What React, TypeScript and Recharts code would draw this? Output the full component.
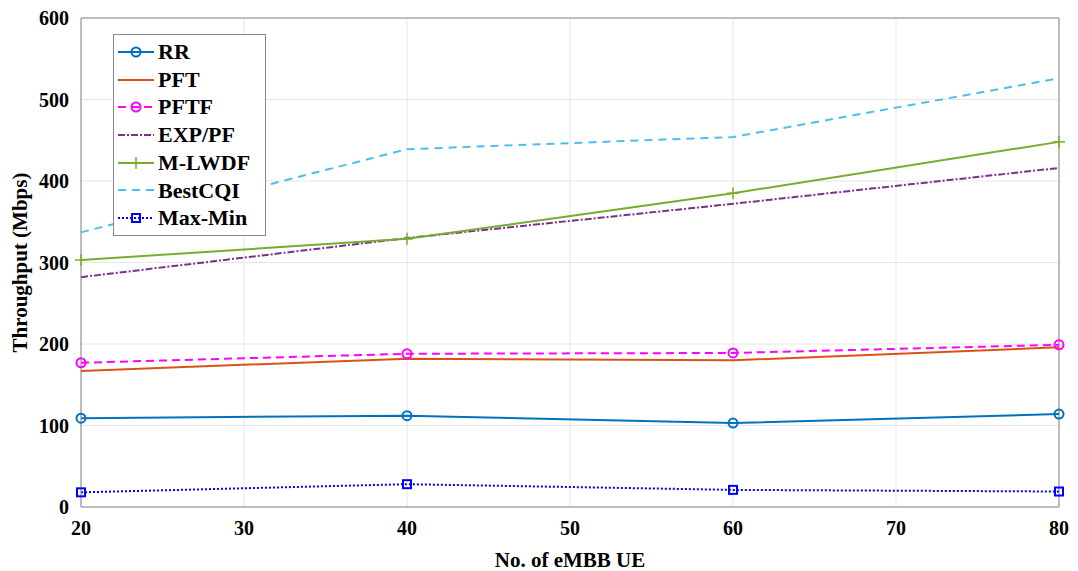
import { CartesianGrid, Line, LineChart, ReferenceLine, XAxis, YAxis } from "recharts";

const ueCounts = [20, 40, 60, 80];
const rr = [109, 112, 103, 114];
const pft = [167, 182, 180, 196];
const pftf = [177, 188, 189, 199];
const expPf = [282, 330, 372, 416];
const mLwdf = [303, 329, 385, 448];
const bestCqi = [337, 439, 454, 526];
const maxMin = [18, 28, 21, 19];

const xTicks = [20, 30, 40, 50, 60, 70, 80];
const yTicks = [0, 100, 200, 300, 400, 500, 600];

const font = "'Liberation Serif', 'Times New Roman', serif";
const tickStyle = { fontSize: 20, fontWeight: 700, fill: "#000", fontFamily: font };

type Marker = "circle" | "plus" | "square" | "none";

interface SeriesDef {
  key: string;
  name: string;
  color: string;
  dash?: string;
  marker: Marker;
}

const series: SeriesDef[] = [
  { key: "rr", name: "RR", color: "#0072BD", marker: "circle" },
  { key: "pft", name: "PFT", color: "#D95319", marker: "none" },
  { key: "pftf", name: "PFTF", color: "#FF00FF", dash: "8 5", marker: "circle" },
  { key: "expPf", name: "EXP/PF", color: "#7E2F8E", dash: "7 2 2 2", marker: "none" },
  { key: "mLwdf", name: "M-LWDF", color: "#77AC30", marker: "plus" },
  { key: "bestCqi", name: "BestCQI", color: "#4DBEEE", dash: "8 6", marker: "none" },
  { key: "maxMin", name: "Max-Min", color: "#0000FF", dash: "2 2", marker: "square" },
];

const rows = ueCounts.map((ue, i) => ({
  ue,
  rr: rr[i],
  pft: pft[i],
  pftf: pftf[i],
  expPf: expPf[i],
  mLwdf: mLwdf[i],
  bestCqi: bestCqi[i],
  maxMin: maxMin[i],
}));

function drawMarker(kind: Marker, color: string, cx: number, cy: number, key?: string) {
  if (kind === "circle")
    return <circle key={key} cx={cx} cy={cy} r={4.5} fill="none" stroke={color} strokeWidth={2} />;
  if (kind === "square")
    return <rect key={key} x={cx - 4} y={cy - 4} width={8} height={8} fill="none" stroke={color} strokeWidth={2} />;
  if (kind === "plus")
    return (
      <g key={key}>
        <line x1={cx - 6} y1={cy} x2={cx + 6} y2={cy} stroke={color} strokeWidth={1.5} />
        <line x1={cx} y1={cy - 6} x2={cx} y2={cy + 6} stroke={color} strokeWidth={1.5} />
      </g>
    );
  return <g key={key} />;
}

// legend drawn as an overlay so it doesn't eat plot space
function LegendBox() {
  return (
    <div
      style={{
        position: "absolute",
        left: 113,
        top: 34,
        width: 153,
        boxSizing: "border-box",
        border: "1px solid #888",
        background: "#fff",
        padding: "3px 0 3px 2px",
        fontFamily: font,
        fontWeight: 700,
        fontSize: 22,
        lineHeight: "27.7px",
        color: "#000",
        whiteSpace: "nowrap",
      }}
    >
      {series.map((s) => (
        <div key={s.key} style={{ display: "flex", alignItems: "center" }}>
          <svg width={40} height={16} style={{ marginRight: 2 }}>
            <line x1={2} y1={8} x2={38} y2={8} stroke={s.color} strokeWidth={2} strokeDasharray={s.dash} />
            {drawMarker(s.marker, s.color, 20, 8)}
          </svg>
          <span>{s.name}</span>
        </div>
      ))}
    </div>
  );
}

export default function App() {
  return (
    <div style={{ position: "fixed", top: 0, left: 0, width: 1078, height: 571, background: "#fff" }}>
      <LineChart width={1078} height={571} data={rows} margin={{ top: 18, right: 19, left: 0, bottom: 0 }}>
        <CartesianGrid stroke="#e6e6e6" vertical horizontal />
        <XAxis
          dataKey="ue"
          type="number"
          domain={[20, 80]}
          ticks={xTicks}
          tick={tickStyle}
          tickLine={false}
          axisLine={{ stroke: "#888" }}
          height={64}
          tickMargin={8}
          label={{ value: "No. of eMBB UE", position: "insideBottom", offset: 4, style: { ...tickStyle, fontSize: 21 } }}
        />
        <YAxis
          type="number"
          domain={[0, 600]}
          ticks={yTicks}
          tick={tickStyle}
          tickLine={false}
          axisLine={{ stroke: "#888" }}
          width={81}
          tickMargin={6}
          label={{
            value: "Throughput (Mbps)",
            angle: -90,
            position: "insideLeft",
            offset: 20,
            style: { ...tickStyle, fontSize: 21, textAnchor: "middle" },
          }}
        />
        <ReferenceLine y={600} stroke="#888" />
        <ReferenceLine x={80} stroke="#888" />
        {series.map((s) => (
          <Line
            key={s.key}
            type="linear"
            dataKey={s.key}
            name={s.name}
            stroke={s.color}
            strokeWidth={2}
            strokeDasharray={s.dash}
            isAnimationActive={false}
            dot={(p: { cx: number; cy: number; index: number }) => drawMarker(s.marker, s.color, p.cx, p.cy, `${s.key}-${p.index}`)}
            activeDot={false}
          />
        ))}
      </LineChart>
      <LegendBox />
    </div>
  );
}
